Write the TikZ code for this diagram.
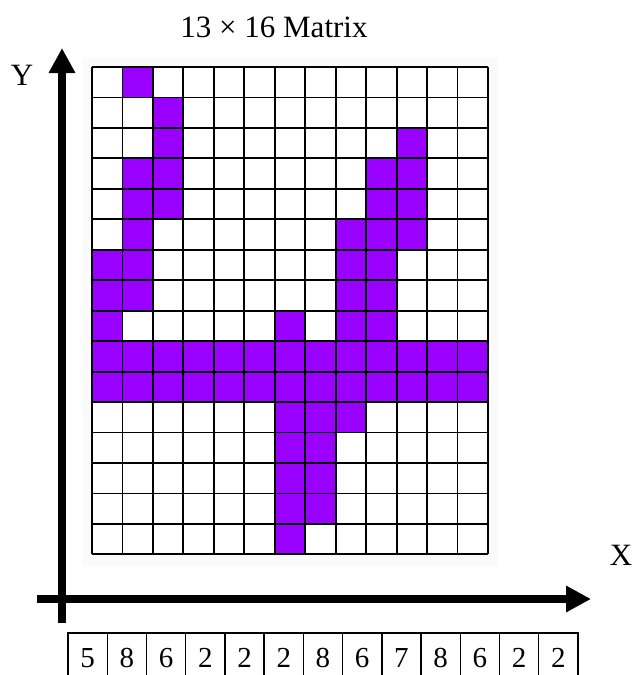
\documentclass[tikz,border=0pt]{standalone}
\usepackage{fontspec}
\setmainfont{Liberation Serif}
\usetikzlibrary{arrows.meta}
\definecolor{cellpurple}{RGB}{153,0,255}
\begin{document}
\begin{tikzpicture}[x=1pt,y=-1pt,
  axisline/.style={line width=7.5pt,-{Triangle[length=25pt,width=25pt]}},
  gridline/.style={line width=1.8pt,black},
  boxline/.style={line width=1.4pt,black},
  bigtext/.style={font=\fontsize{31}{36}\selectfont,inner sep=0pt,anchor=base},
  numtext/.style={font=\fontsize{29}{33}\selectfont,inner sep=0pt,anchor=base}]
\useasboundingbox (0,0) rectangle (635,675);
\def\cw{30.46}
% faint background
\fill[gray!4] (83,58) rectangle (498,566);
\fill[white] (92,67) rectangle (92+13*\cw,67+16*\cw);
% purple cells
\foreach \r/\cols in {0/{1},1/{2},2/{2,10},3/{1,2,9,10},4/{1,2,9,10},5/{1,8,9,10},
  6/{0,1,8,9},7/{0,1,8,9},8/{0,6,8,9},9/{0,...,12},10/{0,...,12},11/{6,7,8},
  12/{6,7},13/{6,7},14/{6,7},15/{6}}{
  \foreach \c in \cols {
    \fill[cellpurple] (92+\c*\cw,67+\r*\cw) rectangle ++(\cw,\cw);
  }
}
% grid lines
\foreach \i in {0,...,13} {\draw[gridline] (92+\i*\cw,67) -- (92+\i*\cw,67+16*\cw);}
\foreach \j in {0,...,16} {\draw[gridline] (92,67+\j*\cw) -- (92+13*\cw,67+\j*\cw);}
% axes
\coordinate (ybot) at (62,623);
\coordinate (ytop) at (62,48);
\coordinate (xleft) at (37,599);
\coordinate (xright) at (591,599);
\draw[axisline] (ybot) -- (ytop);
\draw[axisline] (xleft) -- (xright);
% labels
\node[bigtext] (title) at (274,37) {13 × 16 Matrix};
\node[bigtext] (ylabel) at (22,85) {Y};
\node[bigtext] (xlabel) at (621,565) {X};
% count boxes
\def\bw{39.23}
\foreach \v [count=\k from 0] in {5,8,6,2,2,2,8,6,7,8,6,2,2} {
  \draw[boxline] (68+\k*\bw,633) rectangle ++(\bw,50);
  \node[numtext] (n\k) at (68+\k*\bw+\bw/2,667) {\v};
}
\end{tikzpicture}
\end{document}
